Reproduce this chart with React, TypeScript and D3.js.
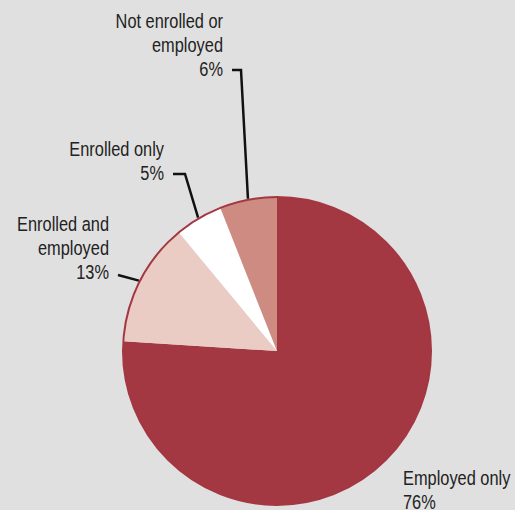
import * as d3 from 'd3'

// category order, clockwise from 12 o'clock
const categories = ['Employed only', 'Enrolled and employed', 'Enrolled only', 'Not enrolled or employed']
const shares = [76, 13, 5, 6]
const labelLines = [
  ['Employed only', '76%'],
  ['Enrolled and', 'employed', '13%'],
  ['Enrolled only', '5%'],
  ['Not enrolled or', 'employed', '6%'],
]
const colors = ['#a33742', '#eaccc5', '#ffffff', '#cd8b82']

const width = 515
const height = 510
const cx = 277
const cy = 351
const radius = 154

// label layout: text anchor point (x, baseline of last line), anchor side, elbow of leader
const labelLayout = [
  { x: 403, y: 509, anchor: 'start', elbow: null },
  { x: 109, y: 279, anchor: 'end', elbow: [118, 275] },
  { x: 164, y: 180, anchor: 'end', elbow: [185, 174] },
  { x: 223, y: 76, anchor: 'end', elbow: [241, 70] },
]

export default function App() {
  const pie = d3.pie<number>().sort(null).value(d => d)
  const arcs = pie(shares)
  const arc = d3.arc<d3.PieArcDatum<number>>().innerRadius(0).outerRadius(radius)
  const lineH = 24

  return (
    <div style={{ position: 'fixed', left: 0, top: 0 }}>
      <svg width={width} height={height} style={{ display: 'block', background: '#e0e0e0' }}
        fontFamily="'Liberation Sans', Arial, sans-serif">
        <g transform={`translate(${cx},${cy})`}>
          {arcs.map((a, i) => (
            <path key={categories[i]} d={arc(a) || ''} fill={colors[i]} />
          ))}
          <circle r={radius} fill="none" stroke="#a33742" strokeWidth={2} />
        </g>
        {arcs.map((a, i) => {
          const lay = labelLayout[i]
          const lines = labelLines[i]
          const mid = (a.startAngle + a.endAngle) / 2
          const px = cx + (radius + 1) * Math.sin(mid)
          const py = cy - (radius + 1) * Math.cos(mid)
          return (
            <g key={categories[i]}>
              {lay.elbow && (
                <path
                  d={`M${lay.x + 9},${lay.elbow[1]}L${lay.elbow[0]},${lay.elbow[1]}L${px},${py}`}
                  fill="none" stroke="#111" strokeWidth={2.5} />
              )}
              <g transform={`translate(${lay.x},${lay.y}) scale(0.84,1)`}>
                <text textAnchor={lay.anchor} fontSize={19.5} fill="#222">
                  {lines.map((t, j) => (
                    <tspan key={j} x={0} y={-(lines.length - 1 - j) * lineH}>{t}</tspan>
                  ))}
                </text>
              </g>
            </g>
          )
        })}
      </svg>
    </div>
  )
}
